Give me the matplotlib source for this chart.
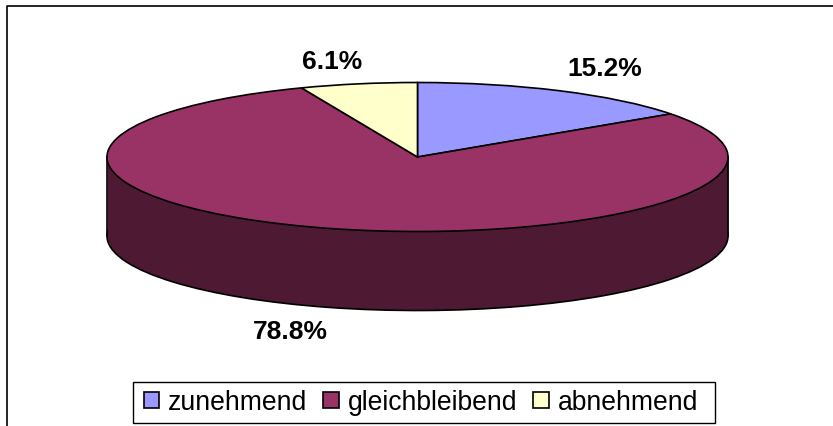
import matplotlib
matplotlib.use('Agg')
import matplotlib.pyplot as plt
from matplotlib.lines import Line2D
from matplotlib.patches import Rectangle

categories = ['zunehmend', 'gleichbleibend', 'abnehmend']
shares = [15.2, 78.8, 6.1]

top_colors = ['#9999FF', '#993366', '#FFFFCC']
side_colors = ['#4D4D80', '#4D1933', '#808066']

W, H = 833, 427
cx, cy = 417.5, 158     # pie centre in pixels
rx, ry = 310.5, 74.5    # ellipse radii in pixels
depth = 79 / ry

plt.rcParams['font.family'] = ['Liberation Sans', 'DejaVu Sans']

fig = plt.figure(figsize=(W / 100, H / 100), dpi=100)
ax = fig.add_axes([0, 0, 1, 1])

edge = {'edgecolor': 'black', 'linewidth': 1.2}

# pie body: lower disc, wall between the two discs, then the top disc
ax.pie(shares, colors=side_colors, startangle=90, counterclock=False,
       center=(0, -depth), wedgeprops={**edge, 'zorder': 1})
# wall dips a little in the middle so it hides the lower disc's centre point
ax.fill_between([-1, -0.9, 0.9, 1], [-depth, -depth - 0.05, -depth - 0.05, -depth], 0,
                color=side_colors[1], lw=0, zorder=1.5)
ax.plot([-1, -1], [-depth, 0], color='black', lw=1.2, zorder=1.6)
ax.plot([1, 1], [-depth, 0], color='black', lw=1.2, zorder=1.6)
wedges, _ = ax.pie(shares, colors=top_colors, startangle=90, counterclock=False,
                   wedgeprops={**edge, 'zorder': 2})

# stretch the round pie into the flat ellipse of the picture
ax.set_aspect('auto')
ax.set_xlim(-cx / rx, (W - cx) / rx)
ax.set_ylim((cy - H) / ry, cy / ry)
ax.axis('off')

# percent labels, positions in figure pixels
label_pos = [(605, 69), (290, 332), (332, 62)]
for share, (px, py) in zip(shares, label_pos):
    fig.text(px / W, 1 - py / H, f'{share:.1f}%', ha='center', va='center',
             fontsize=19, fontweight='bold', color='black')

# legend box is drawn apart, the reference is wider than it is tall
fig.add_artist(Rectangle((133 / W, 1 - 424 / H), 581.5 / W, 41.5 / H, transform=fig.transFigure,
                         facecolor='white', edgecolor='black', lw=1))
leg = fig.legend(wedges, categories, ncol=3, loc='center',
                 bbox_to_anchor=(421 / W, 1 - 403.5 / H),
                 fontsize=19.1, frameon=False,
                 handlelength=0.58, handleheight=0.58, handletextpad=0.35,
                 columnspacing=0.6, borderpad=0, borderaxespad=0)

# chart frame: cut off at the right and bottom of the image
fig.add_artist(Line2D([6.5 / W, 6.5 / W, 1], [0, 1 - 6.5 / H, 1 - 6.5 / H],
                      color='black', lw=1.2))

fig.savefig('out.png', dpi=100)
